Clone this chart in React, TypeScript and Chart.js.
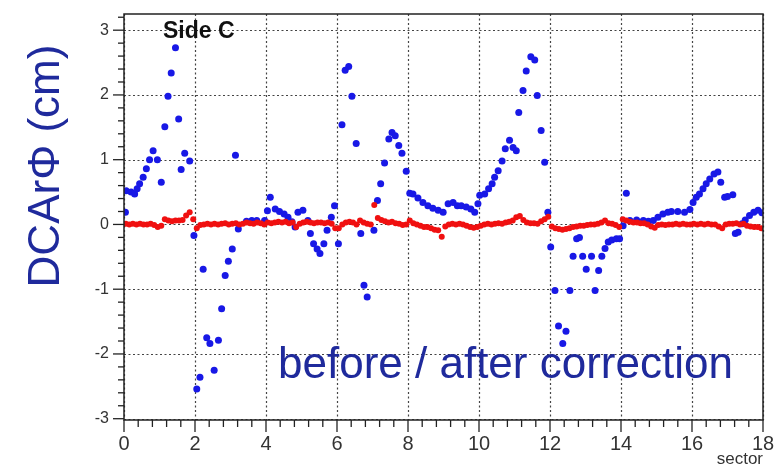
import React, { useEffect, useRef } from "react";
import { Chart, registerables } from "chart.js";

Chart.register(...registerables);

// Blue: before correction (sector, DCA r-phi in cm)
const blueX = [
  0.04, 0.06, 0.2, 0.3, 0.37, 0.44, 0.54, 0.63, 0.72, 0.82, 0.94, 1.05, 1.15, 1.24, 1.33, 1.45, 1.54, 1.61, 1.71, 1.85,
  1.97, 2.05, 2.14, 2.23, 2.33, 2.42, 2.54, 2.66, 2.75, 2.85, 2.94, 3.05, 3.14, 3.22, 3.45, 3.6, 3.74, 3.96,
  4.04, 4.12, 4.26, 4.38, 4.51, 4.62, 4.73, 4.82, 4.9, 5.04, 5.18, 5.25, 5.34, 5.44, 5.52, 5.63, 5.72, 5.84, 5.93,
  6.04, 6.14, 6.23, 6.33, 6.42, 6.54, 6.67, 6.76, 6.85, 7.04, 7.14, 7.23, 7.34, 7.46, 7.55, 7.64, 7.74, 7.83, 7.95,
  8.05, 8.14, 8.28, 8.42, 8.56, 8.7, 8.85, 8.99, 9.13, 9.27, 9.39, 9.5, 9.64, 9.77, 9.88, 9.97,
  10.02, 10.16, 10.27, 10.37, 10.44, 10.54, 10.65, 10.74, 10.86, 10.96, 11.05, 11.12, 11.24, 11.33, 11.46, 11.57, 11.64, 11.75, 11.85, 11.94,
  12.02, 12.14, 12.24, 12.36, 12.45, 12.56, 12.65, 12.75, 12.83, 12.92, 13.02, 13.17, 13.27, 13.37, 13.46, 13.55, 13.64, 13.74, 13.87, 13.96,
  14.06, 14.15, 14.25, 14.44, 14.63, 14.77, 14.91, 15.04, 15.18, 15.32, 15.42, 15.6, 15.79, 15.94,
  16.03, 16.12, 16.21, 16.31, 16.4, 16.5, 16.62, 16.73, 16.81, 16.92, 17.0, 17.15, 17.22, 17.3, 17.41, 17.5, 17.62, 17.74, 17.86, 17.97,
];
const blueY = [
  0.19, 0.52, 0.5, 0.47, 0.55, 0.63, 0.73, 0.86, 1.0, 1.14, 1.0, 0.65, 1.51, 1.98, 2.34, 2.73, 1.63, 0.85, 1.1, 0.98,
  -0.17, -2.54, -2.36, -0.69, -1.75, -1.84, -2.25, -1.79, -1.3, -0.79, -0.57, -0.38, 1.07, -0.07, 0.05, 0.06, 0.06, 0.06,
  0.21, 0.42, 0.24, 0.2, 0.16, 0.11, 0.04, -0.04, 0.19, 0.22, 0.06, -0.14, -0.3, -0.38, -0.45, -0.3, -0.09, 0.11, 0.29,
  -0.3, 1.54, 2.38, 2.44, 1.98, 1.25, -0.14, -0.94, -1.12, -0.09, 0.37, 0.63, 0.95, 1.32, 1.42, 1.37, 1.22, 1.1, 0.82,
  0.48, 0.47, 0.41, 0.34, 0.29, 0.25, 0.22, 0.19, 0.32, 0.34, 0.29, 0.29, 0.27, 0.24, 0.19, 0.32,
  0.45, 0.47, 0.55, 0.63, 0.73, 0.83, 0.98, 1.17, 1.3, 1.19, 1.14, 1.73, 2.07, 2.37, 2.59, 2.54, 1.99, 1.45, 0.96, 0.19,
  -0.35, -1.02, -1.57, -1.84, -1.65, -1.02, -0.49, -0.22, -0.2, -0.49, -0.69, -0.49, -1.02, -0.71, -0.49, -0.37, -0.27, -0.24, -0.22, -0.22,
  -0.02, 0.48, 0.06, 0.07, 0.06, 0.05, 0.06, 0.11, 0.16, 0.19, 0.2, 0.2, 0.19, 0.23,
  0.34, 0.42, 0.47, 0.55, 0.63, 0.7, 0.78, 0.81, 0.65, 0.42, 0.43, 0.46, -0.14, -0.12, 0.01, 0.07, 0.14, 0.19, 0.22, 0.18,
];

// Red: after correction, one value per 0.1-sector bin (0-18)
const redY = [
  0.01, 0.0, 0.01, 0.0, 0.01, 0.0, 0.0, 0.01, -0.01, -0.04,
  -0.02, 0.08, 0.06, 0.05, 0.06, 0.06, 0.07, 0.14, 0.19, 0.08,
  -0.06, -0.01, 0.0, 0.01, 0.0, 0.01, 0.0, 0.01, 0.02, 0.0,
  0.01, 0.02, 0.0, 0.01, 0.03, 0.02, 0.01, 0.03, 0.02, 0.0,
  0.03, 0.02, 0.03, 0.04, 0.03, 0.04, 0.02, 0.03, -0.04, 0.01,
  0.03, 0.04, 0.03, 0.02, 0.03, 0.03, 0.02, 0.03, 0.01, -0.06,
  -0.06, 0.0, 0.03, 0.04, 0.03, 0.0, 0.06, 0.03, 0.01, 0.0,
  0.3, 0.1, 0.07, 0.05, 0.03, 0.04, 0.02, 0.01, -0.01, 0.0,
  0.06, 0.02, 0.0, -0.02, -0.04, -0.04, -0.06, -0.08, -0.09, -0.19,
  -0.03, 0.0, 0.01, 0.0, 0.01, 0.0, -0.02, -0.04, -0.05, -0.04,
  -0.02, 0.0, 0.01, 0.0, 0.01, 0.02, 0.01, 0.03, 0.04, 0.06,
  0.11, 0.13, 0.07, 0.03, 0.02, 0.02, 0.01, 0.05, 0.08, 0.12,
  -0.03, -0.06, -0.07, -0.08, -0.07, -0.06, -0.04, -0.03, -0.02, -0.02,
  -0.01, 0.0, 0.0, 0.01, 0.03, 0.06, 0.02, 0.01, -0.01, -0.04,
  0.08, 0.06, 0.04, 0.03, 0.03, 0.02, 0.02, 0.0, -0.03, -0.05,
  -0.01, 0.0, -0.01, 0.0, 0.0, 0.01, 0.0, 0.01, 0.0, 0.0,
  0.01, 0.0, 0.01, 0.0, 0.01, 0.0, 0.0, -0.03, -0.06, 0.0,
  0.01, 0.01, 0.02, 0.0, 0.01, -0.02, -0.03, -0.04, -0.04, -0.06,
];

const xTickLabels = [0, 2, 4, 6, 8, 10, 12, 14, 16, 18];
const yTickLabels = [-3, -2, -1, 0, 1, 2, 3];

const TITLE_BLUE = "#1f2a9c";
const FONT = '"Liberation Sans", Arial, sans-serif';

const framePlugin = {
  id: "rootFrame",
  beforeDatasetsDraw(chart: any) {
    const { ctx, chartArea, scales } = chart;
    const { left, right, top, bottom } = chartArea;
    ctx.save();
    ctx.strokeStyle = "#444";
    ctx.lineWidth = 1.2;
    ctx.setLineDash([2, 2.5]);
    xTickLabels.forEach((v) => {
      const px = Math.round(scales.x.getPixelForValue(v)) + 0.5;
      ctx.beginPath();
      ctx.moveTo(px, top);
      ctx.lineTo(px, bottom);
      ctx.stroke();
    });
    yTickLabels.forEach((v) => {
      const py = Math.round(scales.y.getPixelForValue(v)) + 0.5;
      ctx.beginPath();
      ctx.moveTo(left, py);
      ctx.lineTo(right, py);
      ctx.stroke();
    });
    ctx.restore();
  },
  afterDraw(chart: any) {
    const { ctx, chartArea, scales } = chart;
    const { left, right, top, bottom } = chartArea;
    ctx.save();
    ctx.setLineDash([]);
    ctx.strokeStyle = "#222";
    ctx.lineWidth = 1.5;
    ctx.strokeRect(left, top, right - left, bottom - top);
    ctx.lineWidth = 1.3;
    // y ticks (major each 1, minor each 0.2)
    for (let k = -15; k <= 16; k++) {
      const v = k * 0.2;
      const py = scales.y.getPixelForValue(v);
      if (py < top - 0.5 || py > bottom + 0.5) continue;
      const major = k % 5 === 0;
      ctx.beginPath();
      ctx.moveTo(left, py);
      ctx.lineTo(left - (major ? 11 : 6), py);
      ctx.stroke();
    }
    // x ticks (major each 2, minor each 0.4)
    for (let k = 0; k <= 45; k++) {
      const v = k * 0.4;
      const px = scales.x.getPixelForValue(v);
      const major = k % 5 === 0;
      ctx.beginPath();
      ctx.moveTo(px, bottom);
      ctx.lineTo(px, bottom + (major ? 12 : 7));
      ctx.stroke();
    }
    // Side C
    ctx.fillStyle = "#111";
    ctx.font = `bold 23px ${FONT}`;
    ctx.textAlign = "left";
    ctx.textBaseline = "alphabetic";
    ctx.fillText("Side C", 163, 38);
    // before / after correction
    ctx.fillStyle = TITLE_BLUE;
    ctx.font = `44px ${FONT}`;
    ctx.fillText("before / after correction", 278, 378);
    // sector
    ctx.fillStyle = "#333";
    ctx.font = `17px ${FONT}`;
    ctx.textAlign = "right";
    ctx.fillText("sector", 763, 464);
    // y title
    ctx.translate(59, 166);
    ctx.rotate(-Math.PI / 2);
    ctx.textAlign = "center";
    ctx.fillStyle = TITLE_BLUE;
    ctx.font = `44px ${FONT}`;
    ctx.fillText("DCArΦ (cm)", 0, 0);
    ctx.restore();
  },
};

export default function App() {
  const ref = useRef<HTMLCanvasElement | null>(null);
  useEffect(() => {
    if (!ref.current) return;
    const redData = redY.map((y, i) => ({ x: 0.05 + i * 0.1, y }));
    const blueData = blueX.map((x, i) => ({ x, y: blueY[i] }));
    const chart = new Chart(ref.current, {
      type: "scatter",
      data: {
        datasets: [
          {
            label: "after",
            data: redData,
            pointStyle: "circle",
            pointRadius: 3,
            pointBorderWidth: 0,
            backgroundColor: "rgb(240,16,16)",
            borderColor: "rgb(240,16,16)",
          },
          {
            label: "before",
            data: blueData,
            pointStyle: "circle",
            pointRadius: 3.5,
            pointBorderWidth: 0,
            backgroundColor: "rgb(24,24,230)",
            borderColor: "rgb(24,24,230)",
          },
        ],
      },
      options: {
        animation: false,
        responsive: false,
        maintainAspectRatio: false,
        events: [],
        layout: { padding: { top: 14, right: 19, left: 0, bottom: 0 } },
        plugins: { legend: { display: false }, tooltip: { enabled: false }, title: { display: false } },
        scales: {
          x: {
            type: "linear",
            min: 0,
            max: 18,
            grid: { display: false, drawTicks: false },
            border: { display: false },
            afterBuildTicks: (s: any) => {
              s.ticks = xTickLabels.map((v) => ({ value: v }));
            },
            afterFit: (s: any) => {
              s.height = 45;
              s.paddingLeft = 0;
              s.paddingRight = 0;
            },
            ticks: {
              autoSkip: false,
              maxRotation: 0,
              padding: 12,
              color: "#333",
              font: { family: FONT, size: 20 },
              callback: (v: any) => String(v),
            },
          },
          y: {
            type: "linear",
            min: -3.02,
            max: 3.25,
            grid: { display: false, drawTicks: false },
            border: { display: false },
            afterBuildTicks: (s: any) => {
              s.ticks = yTickLabels.map((v) => ({ value: v }));
            },
            afterFit: (s: any) => {
              s.width = 124;
              s.paddingTop = 0;
              s.paddingBottom = 0;
            },
            ticks: {
              autoSkip: false,
              padding: 15,
              color: "#333",
              font: { family: FONT, size: 16 },
              callback: (v: any) => String(v),
            },
          },
        },
      },
      plugins: [framePlugin],
    });
    return () => chart.destroy();
  }, []);
  return (
    <div style={{ position: "absolute", left: 0, top: 0, width: 782, height: 465, background: "#fff" }}>
      <canvas ref={ref} width={782} height={465} style={{ display: "block" }} />
    </div>
  );
}
